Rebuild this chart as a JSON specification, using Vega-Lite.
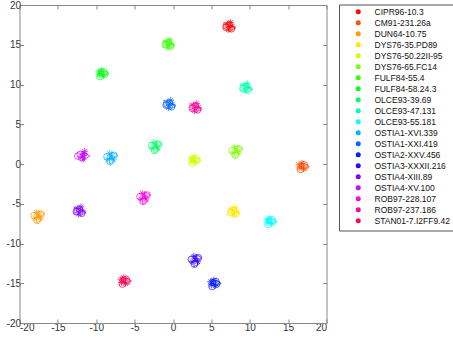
{
"$schema":"https://vega.github.io/schema/vega-lite/v6.json",
"autosize":{"type":"none"},
"width":307,"height":318,
"padding":{"left":19.5,"top":5,"right":126.5,"bottom":14},
"background":"white",
"config":{"view":{"stroke":null},"font":"Liberation Sans",
 "axis":{"grid":false,"title":null,"domainColor":"#888888","tickColor":"#888888","tickSize":-4,"labelFontSize":10,"labelColor":"#333333","labelFont":"Liberation Sans","domainWidth":1,"tickWidth":1,"labelExpr":"toString(datum.value)"}},
"data":{"values":[
{"g":"CIPR96-10.3","x":6.9,"y":17.2,"m":"o"},{"g":"CIPR96-10.3","x":7.6,"y":17.0,"m":"o"},{"g":"CIPR96-10.3","x":7.3,"y":17.5,"m":"o"},{"g":"CIPR96-10.3","x":7.1,"y":17.6,"m":"*"},{"g":"CIPR96-10.3","x":7.5,"y":17.8,"m":"*"},{"g":"CIPR96-10.3","x":7.7,"y":17.3,"m":"*"},{"g":"CIPR96-10.3","x":7.2,"y":16.9,"m":"*"},{"g":"CIPR96-10.3","x":7.8,"y":17.1,"m":">"},{"g":"CIPR96-10.3","x":7.0,"y":17.4,"m":">"},
{"g":"CM91-231.26a","x":17.1,"y":-0.1,"m":"o"},{"g":"CM91-231.26a","x":16.6,"y":-0.7,"m":"o"},{"g":"CM91-231.26a","x":17.2,"y":-0.4,"m":"o"},{"g":"CM91-231.26a","x":16.4,"y":-0.1,"m":"*"},{"g":"CM91-231.26a","x":16.8,"y":0.1,"m":"*"},{"g":"CM91-231.26a","x":16.5,"y":-0.5,"m":"*"},{"g":"CM91-231.26a","x":17.0,"y":-0.6,"m":"*"},{"g":"CM91-231.26a","x":17.4,"y":-0.3,"m":">"},{"g":"CM91-231.26a","x":16.9,"y":-0.2,"m":">"},
{"g":"DUN64-10.75","x":-17.7,"y":-7.1,"m":"o"},{"g":"DUN64-10.75","x":-17.2,"y":-6.3,"m":"o"},{"g":"DUN64-10.75","x":-18.1,"y":-6.5,"m":"o"},{"g":"DUN64-10.75","x":-17.5,"y":-6.4,"m":"*"},{"g":"DUN64-10.75","x":-17.8,"y":-6.1,"m":"*"},{"g":"DUN64-10.75","x":-17.3,"y":-6.8,"m":"*"},{"g":"DUN64-10.75","x":-18.0,"y":-6.8,"m":"*"},{"g":"DUN64-10.75","x":-17.4,"y":-7.0,"m":">"},{"g":"DUN64-10.75","x":-17.1,"y":-6.3,"m":">"},
{"g":"DYS76-35.PD89","x":7.5,"y":-6.1,"m":"o"},{"g":"DYS76-35.PD89","x":8.2,"y":-6.3,"m":"o"},{"g":"DYS76-35.PD89","x":7.9,"y":-5.8,"m":"o"},{"g":"DYS76-35.PD89","x":7.7,"y":-5.7,"m":"*"},{"g":"DYS76-35.PD89","x":8.1,"y":-5.5,"m":"*"},{"g":"DYS76-35.PD89","x":8.3,"y":-6.0,"m":"*"},{"g":"DYS76-35.PD89","x":7.8,"y":-6.4,"m":"*"},{"g":"DYS76-35.PD89","x":8.4,"y":-6.2,"m":">"},{"g":"DYS76-35.PD89","x":7.6,"y":-5.9,"m":">"},
{"g":"DYS76-50.22II-95","x":3.0,"y":0.7,"m":"o"},{"g":"DYS76-50.22II-95","x":2.5,"y":0.1,"m":"o"},{"g":"DYS76-50.22II-95","x":3.1,"y":0.4,"m":"o"},{"g":"DYS76-50.22II-95","x":2.3,"y":0.7,"m":"*"},{"g":"DYS76-50.22II-95","x":2.7,"y":0.9,"m":"*"},{"g":"DYS76-50.22II-95","x":2.4,"y":0.3,"m":"*"},{"g":"DYS76-50.22II-95","x":2.9,"y":0.2,"m":"*"},{"g":"DYS76-50.22II-95","x":3.3,"y":0.5,"m":">"},{"g":"DYS76-50.22II-95","x":2.8,"y":0.6,"m":">"},
{"g":"DYS76-65.FC14","x":8.1,"y":1.1,"m":"o"},{"g":"DYS76-65.FC14","x":8.6,"y":1.9,"m":"o"},{"g":"DYS76-65.FC14","x":7.7,"y":1.7,"m":"o"},{"g":"DYS76-65.FC14","x":8.3,"y":1.8,"m":"*"},{"g":"DYS76-65.FC14","x":8.0,"y":2.1,"m":"*"},{"g":"DYS76-65.FC14","x":8.5,"y":1.4,"m":"*"},{"g":"DYS76-65.FC14","x":7.8,"y":1.4,"m":"*"},{"g":"DYS76-65.FC14","x":8.4,"y":1.2,"m":">"},{"g":"DYS76-65.FC14","x":8.7,"y":1.9,"m":">"},
{"g":"FULF84-55.4","x":-1.0,"y":15.0,"m":"o"},{"g":"FULF84-55.4","x":-0.3,"y":14.8,"m":"o"},{"g":"FULF84-55.4","x":-0.6,"y":15.3,"m":"o"},{"g":"FULF84-55.4","x":-0.8,"y":15.4,"m":"*"},{"g":"FULF84-55.4","x":-0.4,"y":15.6,"m":"*"},{"g":"FULF84-55.4","x":-0.2,"y":15.1,"m":"*"},{"g":"FULF84-55.4","x":-0.7,"y":14.7,"m":"*"},{"g":"FULF84-55.4","x":-0.1,"y":14.9,"m":">"},{"g":"FULF84-55.4","x":-0.9,"y":15.2,"m":">"},
{"g":"FULF84-58.24.3","x":-9.0,"y":11.6,"m":"o"},{"g":"FULF84-58.24.3","x":-9.5,"y":11.0,"m":"o"},{"g":"FULF84-58.24.3","x":-8.9,"y":11.3,"m":"o"},{"g":"FULF84-58.24.3","x":-9.7,"y":11.6,"m":"*"},{"g":"FULF84-58.24.3","x":-9.3,"y":11.8,"m":"*"},{"g":"FULF84-58.24.3","x":-9.6,"y":11.2,"m":"*"},{"g":"FULF84-58.24.3","x":-9.1,"y":11.1,"m":"*"},{"g":"FULF84-58.24.3","x":-8.7,"y":11.4,"m":">"},{"g":"FULF84-58.24.3","x":-9.2,"y":11.5,"m":">"},
{"g":"OLCE93-39.69","x":-2.4,"y":1.7,"m":"o"},{"g":"OLCE93-39.69","x":-1.9,"y":2.5,"m":"o"},{"g":"OLCE93-39.69","x":-2.8,"y":2.3,"m":"o"},{"g":"OLCE93-39.69","x":-2.2,"y":2.4,"m":"*"},{"g":"OLCE93-39.69","x":-2.5,"y":2.7,"m":"*"},{"g":"OLCE93-39.69","x":-2.0,"y":2.0,"m":"*"},{"g":"OLCE93-39.69","x":-2.7,"y":2.0,"m":"*"},{"g":"OLCE93-39.69","x":-2.1,"y":1.8,"m":">"},{"g":"OLCE93-39.69","x":-1.8,"y":2.5,"m":">"},
{"g":"OLCE93-47.131","x":9.1,"y":9.5,"m":"o"},{"g":"OLCE93-47.131","x":9.8,"y":9.3,"m":"o"},{"g":"OLCE93-47.131","x":9.5,"y":9.8,"m":"o"},{"g":"OLCE93-47.131","x":9.3,"y":9.9,"m":"*"},{"g":"OLCE93-47.131","x":9.7,"y":10.1,"m":"*"},{"g":"OLCE93-47.131","x":9.9,"y":9.6,"m":"*"},{"g":"OLCE93-47.131","x":9.4,"y":9.2,"m":"*"},{"g":"OLCE93-47.131","x":10.0,"y":9.4,"m":">"},{"g":"OLCE93-47.131","x":9.2,"y":9.7,"m":">"},
{"g":"OLCE93-55.181","x":12.9,"y":-7.0,"m":"o"},{"g":"OLCE93-55.181","x":12.4,"y":-7.6,"m":"o"},{"g":"OLCE93-55.181","x":13.0,"y":-7.3,"m":"o"},{"g":"OLCE93-55.181","x":12.2,"y":-7.0,"m":"*"},{"g":"OLCE93-55.181","x":12.6,"y":-6.8,"m":"*"},{"g":"OLCE93-55.181","x":12.3,"y":-7.4,"m":"*"},{"g":"OLCE93-55.181","x":12.8,"y":-7.5,"m":"*"},{"g":"OLCE93-55.181","x":13.2,"y":-7.2,"m":">"},{"g":"OLCE93-55.181","x":12.7,"y":-7.1,"m":">"},
{"g":"OSTIA1-XVI.339","x":-8.2,"y":0.3,"m":"o"},{"g":"OSTIA1-XVI.339","x":-7.7,"y":1.1,"m":"o"},{"g":"OSTIA1-XVI.339","x":-8.6,"y":0.9,"m":"o"},{"g":"OSTIA1-XVI.339","x":-8.0,"y":1.0,"m":"*"},{"g":"OSTIA1-XVI.339","x":-8.3,"y":1.3,"m":"*"},{"g":"OSTIA1-XVI.339","x":-7.8,"y":0.6,"m":"*"},{"g":"OSTIA1-XVI.339","x":-8.5,"y":0.6,"m":"*"},{"g":"OSTIA1-XVI.339","x":-7.9,"y":0.4,"m":">"},{"g":"OSTIA1-XVI.339","x":-7.6,"y":1.1,"m":">"},
{"g":"OSTIA1-XXI.419","x":-0.9,"y":7.4,"m":"o"},{"g":"OSTIA1-XXI.419","x":-0.2,"y":7.2,"m":"o"},{"g":"OSTIA1-XXI.419","x":-0.5,"y":7.7,"m":"o"},{"g":"OSTIA1-XXI.419","x":-0.7,"y":7.8,"m":"*"},{"g":"OSTIA1-XXI.419","x":-0.3,"y":8.0,"m":"*"},{"g":"OSTIA1-XXI.419","x":-0.1,"y":7.5,"m":"*"},{"g":"OSTIA1-XXI.419","x":-0.6,"y":7.1,"m":"*"},{"g":"OSTIA1-XXI.419","x":0.0,"y":7.3,"m":">"},{"g":"OSTIA1-XXI.419","x":-0.8,"y":7.6,"m":">"},
{"g":"OSTIA2-XXV.456","x":5.6,"y":-14.8,"m":"o"},{"g":"OSTIA2-XXV.456","x":5.1,"y":-15.4,"m":"o"},{"g":"OSTIA2-XXV.456","x":5.7,"y":-15.1,"m":"o"},{"g":"OSTIA2-XXV.456","x":4.9,"y":-14.8,"m":"*"},{"g":"OSTIA2-XXV.456","x":5.3,"y":-14.6,"m":"*"},{"g":"OSTIA2-XXV.456","x":5.0,"y":-15.2,"m":"*"},{"g":"OSTIA2-XXV.456","x":5.5,"y":-15.3,"m":"*"},{"g":"OSTIA2-XXV.456","x":5.9,"y":-15.0,"m":">"},{"g":"OSTIA2-XXV.456","x":5.4,"y":-14.9,"m":">"},
{"g":"OSTIA3-XXXII.216","x":2.8,"y":-12.6,"m":"o"},{"g":"OSTIA3-XXXII.216","x":3.3,"y":-11.8,"m":"o"},{"g":"OSTIA3-XXXII.216","x":2.4,"y":-12.0,"m":"o"},{"g":"OSTIA3-XXXII.216","x":3.0,"y":-11.9,"m":"*"},{"g":"OSTIA3-XXXII.216","x":2.7,"y":-11.6,"m":"*"},{"g":"OSTIA3-XXXII.216","x":3.2,"y":-12.3,"m":"*"},{"g":"OSTIA3-XXXII.216","x":2.5,"y":-12.3,"m":"*"},{"g":"OSTIA3-XXXII.216","x":3.1,"y":-12.5,"m":">"},{"g":"OSTIA3-XXXII.216","x":3.4,"y":-11.8,"m":">"},
{"g":"OSTIA4-XIII.89","x":-12.6,"y":-6.0,"m":"o"},{"g":"OSTIA4-XIII.89","x":-11.9,"y":-6.2,"m":"o"},{"g":"OSTIA4-XIII.89","x":-12.2,"y":-5.7,"m":"o"},{"g":"OSTIA4-XIII.89","x":-12.4,"y":-5.6,"m":"*"},{"g":"OSTIA4-XIII.89","x":-12.0,"y":-5.4,"m":"*"},{"g":"OSTIA4-XIII.89","x":-11.8,"y":-5.9,"m":"*"},{"g":"OSTIA4-XIII.89","x":-12.3,"y":-6.3,"m":"*"},{"g":"OSTIA4-XIII.89","x":-11.7,"y":-6.1,"m":">"},{"g":"OSTIA4-XIII.89","x":-12.5,"y":-5.8,"m":">"},
{"g":"OSTIA4-XV.100","x":-12.1,"y":1.2,"m":"o"},{"g":"OSTIA4-XV.100","x":-12.4,"y":1.0,"m":"o"},{"g":"OSTIA4-XV.100","x":-11.9,"y":0.8,"m":"o"},{"g":"OSTIA4-XV.100","x":-11.6,"y":1.3,"m":"*"},{"g":"OSTIA4-XV.100","x":-11.5,"y":1.6,"m":"*"},{"g":"OSTIA4-XV.100","x":-11.8,"y":0.9,"m":"*"},{"g":"OSTIA4-XV.100","x":-11.7,"y":0.6,"m":"*"},{"g":"OSTIA4-XV.100","x":-11.2,"y":1.0,"m":">"},{"g":"OSTIA4-XV.100","x":-11.5,"y":1.2,"m":">"},
{"g":"ROB97-228.107","x":-3.9,"y":-4.7,"m":"o"},{"g":"ROB97-228.107","x":-3.4,"y":-3.9,"m":"o"},{"g":"ROB97-228.107","x":-4.3,"y":-4.1,"m":"o"},{"g":"ROB97-228.107","x":-3.7,"y":-4.0,"m":"*"},{"g":"ROB97-228.107","x":-4.0,"y":-3.7,"m":"*"},{"g":"ROB97-228.107","x":-3.5,"y":-4.4,"m":"*"},{"g":"ROB97-228.107","x":-4.2,"y":-4.4,"m":"*"},{"g":"ROB97-228.107","x":-3.6,"y":-4.6,"m":">"},{"g":"ROB97-228.107","x":-3.3,"y":-3.9,"m":">"},
{"g":"ROB97-237.186","x":2.5,"y":7.0,"m":"o"},{"g":"ROB97-237.186","x":3.2,"y":6.8,"m":"o"},{"g":"ROB97-237.186","x":2.9,"y":7.3,"m":"o"},{"g":"ROB97-237.186","x":2.7,"y":7.4,"m":"*"},{"g":"ROB97-237.186","x":3.1,"y":7.6,"m":"*"},{"g":"ROB97-237.186","x":3.3,"y":7.1,"m":"*"},{"g":"ROB97-237.186","x":2.8,"y":6.7,"m":"*"},{"g":"ROB97-237.186","x":3.4,"y":6.9,"m":">"},{"g":"ROB97-237.186","x":2.6,"y":7.2,"m":">"},
{"g":"STAN01-7.I2FF9.42","x":-6.1,"y":-14.5,"m":"o"},{"g":"STAN01-7.I2FF9.42","x":-6.6,"y":-15.1,"m":"o"},{"g":"STAN01-7.I2FF9.42","x":-6.0,"y":-14.8,"m":"o"},{"g":"STAN01-7.I2FF9.42","x":-6.8,"y":-14.5,"m":"*"},{"g":"STAN01-7.I2FF9.42","x":-6.4,"y":-14.3,"m":"*"},{"g":"STAN01-7.I2FF9.42","x":-6.7,"y":-14.9,"m":"*"},{"g":"STAN01-7.I2FF9.42","x":-6.2,"y":-15.0,"m":"*"},{"g":"STAN01-7.I2FF9.42","x":-5.8,"y":-14.7,"m":">"},{"g":"STAN01-7.I2FF9.42","x":-6.3,"y":-14.6,"m":">"}
]},
"resolve":{"axis":{"x":"independent","y":"independent"}},
"layer":[
{"mark":{"type":"point","filled":false,"strokeWidth":0.8,"opacity":0.9,"size":44},
 "encoding":{
  "x":{"field":"x","type":"quantitative","scale":{"domain":[-20,20],"nice":false},"axis":{"orient":"bottom","values":[-20,-15,-10,-5,0,5,10,15,20],"labelPadding":3}},
  "y":{"field":"y","type":"quantitative","scale":{"domain":[-20,20],"nice":false},"axis":{"orient":"left","values":[-20,-15,-10,-5,0,5,10,15,20],"labelPadding":3}},
  "shape":{"field":"m","type":"nominal","scale":{"domain":["o","*",">"],"range":["circle","M-1,0L1,0M0,-1L0,1M-0.7,-0.7L0.7,0.7M-0.7,0.7L0.7,-0.7","triangle-right"]},"legend":null},
  "color":{"field":"g","type":"nominal","scale":{"domain":["CIPR96-10.3","CM91-231.26a","DUN64-10.75","DYS76-35.PD89","DYS76-50.22II-95","DYS76-65.FC14","FULF84-55.4","FULF84-58.24.3","OLCE93-39.69","OLCE93-47.131","OLCE93-55.181","OSTIA1-XVI.339","OSTIA1-XXI.419","OSTIA2-XXV.456","OSTIA3-XXXII.216","OSTIA4-XIII.89","OSTIA4-XV.100","ROB97-228.107","ROB97-237.186","STAN01-7.I2FF9.42"],
    "range":["#ff0000","#ff4d00","#ff9900","#ffe600","#ccff00","#80ff00","#33ff00","#00ff1a","#00ff66","#00ffb3","#00ffff","#00b3ff","#0066ff","#001aff","#3300ff","#8000ff","#cc00ff","#ff00e6","#ff0099","#ff004d"]},
   "legend":{"title":null,"orient":"none","legendX":319.5,"legendY":-0.5,"strokeColor":"#555555","fillColor":"white","padding":3,"symbolType":"circle","symbolSize":8,"symbolStrokeWidth":2.2,"symbolOpacity":1,"symbolOffset":12,"labelOffset":12,"labelFontSize":8.5,"labelFont":"Liberation Sans","labelColor":"#111111","rowPadding":-2.3,"labelLimit":200}}
 }},
{"mark":{"type":"point","opacity":0},
 "encoding":{
  "x":{"field":"x","type":"quantitative","scale":{"domain":[-20,20],"nice":false},"axis":{"orient":"top","values":[-20,-15,-10,-5,0,5,10,15,20],"labels":false}},
  "y":{"field":"y","type":"quantitative","scale":{"domain":[-20,20],"nice":false},"axis":{"orient":"right","values":[-20,-15,-10,-5,0,5,10,15,20],"labels":false}}
 }}
]
}
